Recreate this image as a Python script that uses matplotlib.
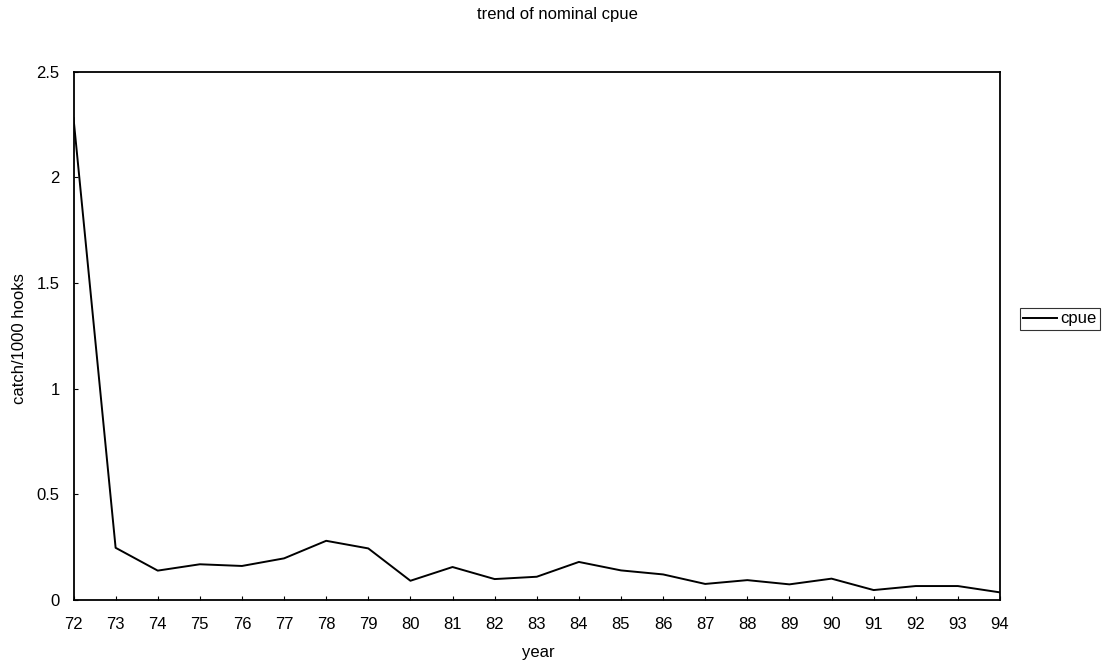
import matplotlib
matplotlib.use("Agg")
import matplotlib.pyplot as plt

plt.rcParams["font.family"] = ["Liberation Sans", "DejaVu Sans"]

years = [72, 73, 74, 75, 76, 77, 78, 79, 80, 81, 82, 83,
         84, 85, 86, 87, 88, 89, 90, 91, 92, 93, 94]
cpue = [2.28, 0.247, 0.139, 0.169, 0.161, 0.197, 0.280, 0.244, 0.091, 0.156, 0.099, 0.110,
        0.180, 0.140, 0.121, 0.076, 0.094, 0.074, 0.101, 0.047, 0.066, 0.066, 0.036]
year_labels = [str(y) for y in years]
y_ticks = [0, 0.5, 1, 1.5, 2, 2.5]
y_tick_labels = ["0", "0.5", "1", "1.5", "2", "2.5"]

W, H = 1107, 668
fig = plt.figure(figsize=(W / 100, H / 100), dpi=100)
ax = fig.add_axes([73.5 / W, 1 - 600 / H, (1000 - 73.5) / W, (600 - 71.5) / H])

ax.plot(years, cpue, color="black", linewidth=1.4, label="cpue")

ax.set_xlim(72, 94)
ax.set_ylim(0, 2.5)
ax.set_xticks(years)
ax.set_xticklabels(year_labels)
ax.set_yticks(y_ticks)
ax.set_yticklabels(y_tick_labels)
ax.tick_params(direction="in", length=3, width=0.8, labelsize=12)
ax.tick_params(axis="x", pad=12)
ax.tick_params(axis="y", pad=10)

for s in ax.spines.values():
    s.set_linewidth(1.3)
    s.set_color("black")

fig.text(557 / W, 1 - 15 / H, "trend of nominal cpue", ha="center", va="center", fontsize=12)
fig.text(538 / W, 1 - 653 / H, "year", ha="center", va="center", fontsize=12)
fig.text(20 / W, 1 - 339 / H, "catch/1000 hooks", ha="center", va="center",
         rotation=90, fontsize=12)

leg = ax.legend(loc="upper left", bbox_to_anchor=(1020 / W, 1 - 308 / H),
                bbox_transform=fig.transFigure, frameon=True, fancybox=False,
                fontsize=12, handlelength=2.0, handletextpad=0.2,
                borderpad=0.2, borderaxespad=0)
leg.get_frame().set_edgecolor("black")
leg.get_frame().set_linewidth(0.8)

fig.savefig("out.png", dpi=100)
